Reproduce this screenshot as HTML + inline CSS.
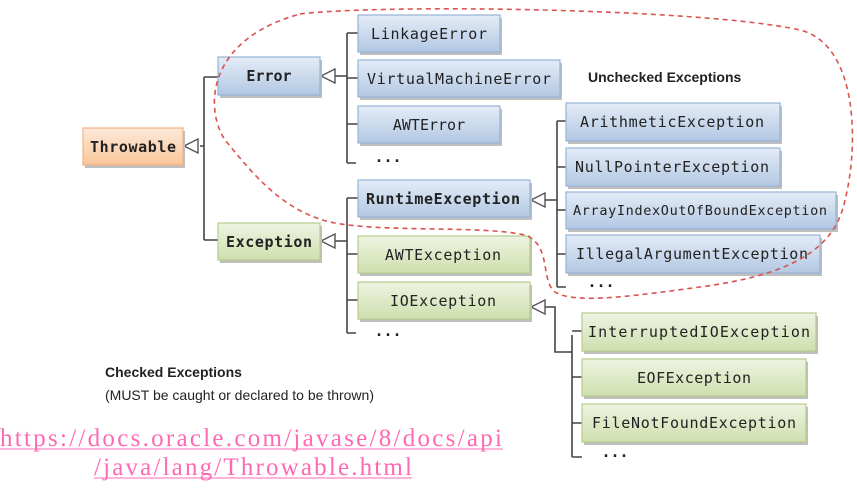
<!DOCTYPE html>
<html><head><meta charset="utf-8"><style>
html,body{margin:0;padding:0;background:#fff;width:857px;height:496px;overflow:hidden}
</style></head><body>
<svg width="857" height="496" xmlns="http://www.w3.org/2000/svg">
<defs>
<linearGradient id="b" x1="0" y1="0" x2="0" y2="1"><stop offset="0" stop-color="#e4ecf7"/><stop offset="1" stop-color="#b3c8e3"/></linearGradient>
<linearGradient id="g" x1="0" y1="0" x2="0" y2="1"><stop offset="0" stop-color="#eef4e2"/><stop offset="1" stop-color="#cfdfae"/></linearGradient>
<linearGradient id="o" x1="0" y1="0" x2="0" y2="1"><stop offset="0" stop-color="#fde9d9"/><stop offset="1" stop-color="#f9c69a"/></linearGradient>
</defs>
<g stroke="#444" stroke-width="1.6" fill="none">
<path d="M200 146H204M204 77V240M204 77H218M204 240H218"/>
<path d="M335 76H347M347 33V163M347 33H358M347 78H358M347 124H358M347 163H356"/>
<path d="M335 241H347M347 198V333M347 198H358M347 254H358M347 300H358M347 333H356"/>
<path d="M545 200H557M557 121V287M557 121H566M557 167H566M557 210H566M557 254H566M557 287H566"/>
<path d="M545 307H555V352H572M572 335V457M572 331H582M572 377H582M572 423H582M572 457H582"/>
</g>
<g fill="#fff" stroke="#555" stroke-width="1.4">
<path d="M184 146L198 139V153Z"/><path d="M321 76L335 69V83Z"/><path d="M321 241L335 234V248Z"/>
<path d="M531 200L545 193V207Z"/><path d="M531 307L545 300V314Z"/>
</g>
<g stroke-width="1.2" font-family="'DejaVu Sans Mono','Liberation Mono',monospace" font-size="15" fill="#222">
<g fill="#bfbfbf" stroke="none">
<rect x="85" y="131" width="100" height="37"/><rect x="220" y="60" width="102" height="38"/><rect x="220" y="226" width="102" height="37"/>
<rect x="360" y="18" width="142" height="37"/><rect x="360" y="63" width="202" height="37"/><rect x="360" y="109" width="142" height="37"/>
<rect x="360" y="183" width="172" height="37"/><rect x="360" y="239" width="172" height="37"/><rect x="360" y="285" width="172" height="37"/>
<rect x="568" y="106" width="214" height="38"/><rect x="568" y="151" width="214" height="38"/><rect x="568" y="195" width="270" height="37"/><rect x="568" y="238" width="254" height="38"/>
<rect x="584" y="316" width="234" height="38"/><rect x="584" y="362" width="224" height="37"/><rect x="584" y="407" width="224" height="38"/>
</g>
<rect x="83" y="128" width="100" height="37" fill="url(#o)" stroke="#f4b183"/>
<rect x="218" y="57" width="102" height="38" fill="url(#b)" stroke="#95b3d7"/>
<rect x="218" y="223" width="102" height="37" fill="url(#g)" stroke="#b5cd8c"/>
<rect x="358" y="15" width="142" height="37" fill="url(#b)" stroke="#95b3d7"/>
<rect x="358" y="60" width="202" height="37" fill="url(#b)" stroke="#95b3d7"/>
<rect x="358" y="106" width="142" height="37" fill="url(#b)" stroke="#95b3d7"/>
<rect x="358" y="180" width="172" height="37" fill="url(#b)" stroke="#95b3d7"/>
<rect x="358" y="236" width="172" height="37" fill="url(#g)" stroke="#b5cd8c"/>
<rect x="358" y="282" width="172" height="37" fill="url(#g)" stroke="#b5cd8c"/>
<rect x="566" y="103" width="214" height="38" fill="url(#b)" stroke="#95b3d7"/>
<rect x="566" y="148" width="214" height="38" fill="url(#b)" stroke="#95b3d7"/>
<rect x="566" y="192" width="270" height="37" fill="url(#b)" stroke="#95b3d7"/>
<rect x="566" y="235" width="254" height="38" fill="url(#b)" stroke="#95b3d7"/>
<rect x="582" y="313" width="234" height="38" fill="url(#g)" stroke="#b5cd8c"/>
<rect x="582" y="359" width="224" height="37" fill="url(#g)" stroke="#b5cd8c"/>
<rect x="582" y="404" width="224" height="38" fill="url(#g)" stroke="#b5cd8c"/>
<g stroke="none" text-anchor="middle">
<text x="133" y="152" font-weight="bold" textLength="86">Throwable</text>
<text x="269" y="81" font-weight="bold">Error</text>
<text x="269" y="247" font-weight="bold" textLength="86">Exception</text>
<text x="429" y="39" textLength="116">LinkageError</text>
<text x="459" y="84" textLength="184">VirtualMachineError</text>
<text x="429" y="130">AWTError</text>
<text x="443" y="204" font-weight="bold" textLength="154">RuntimeException</text>
<text x="443" y="260" textLength="116">AWTException</text>
<text x="443" y="306" textLength="106">IOException</text>
<text x="672" y="127" textLength="184">ArithmeticException</text>
<text x="672" y="172" textLength="194">NullPointerException</text>
<text x="700" y="215" font-size="13.5" textLength="254">ArrayIndexOutOfBoundException</text>
<text x="692" y="259" textLength="232">IllegalArgumentException</text>
<text x="699" y="337" textLength="222">InterruptedIOException</text>
<text x="694" y="383" textLength="114">EOFException</text>
<text x="694" y="428" textLength="204">FileNotFoundException</text>
<text x="388" y="162" font-weight="bold">...</text>
<text x="388" y="336" font-weight="bold">...</text>
<text x="601" y="287" font-weight="bold">...</text>
<text x="615" y="457" font-weight="bold">...</text>
</g></g>
<path d="M300 14C380 4 700 8 800 30C860 45 858 150 845 200C835 250 790 275 700 287C640 295 575 305 555 292C540 280 552 245 525 235C480 225 380 233 330 222C280 210 250 170 225 140C205 110 205 40 300 14Z" fill="none" stroke="#d9534f" stroke-width="1.6" stroke-dasharray="5,4"/>
<g font-family="'Liberation Sans',sans-serif" fill="#222">
<text x="588" y="82" font-size="14" font-weight="bold">Unchecked Exceptions</text>
<text x="105" y="377" font-size="14" font-weight="bold">Checked Exceptions</text>
<text x="105" y="400" font-size="14">(MUST be caught or declared to be thrown)</text>
</g>
<g font-family="'Liberation Serif',serif" font-size="25" fill="#ff69b4" text-anchor="middle">
<text x="251" y="446" textLength="502">https://docs.oracle.com/javase/8/docs/api</text>
<text x="253" y="475" textLength="318">/java/lang/Throwable.html</text>
</g>
<g stroke="#ff69b4" stroke-width="1"><path d="M0 449H503M94 478H412"/></g>
</svg>
</body></html>
